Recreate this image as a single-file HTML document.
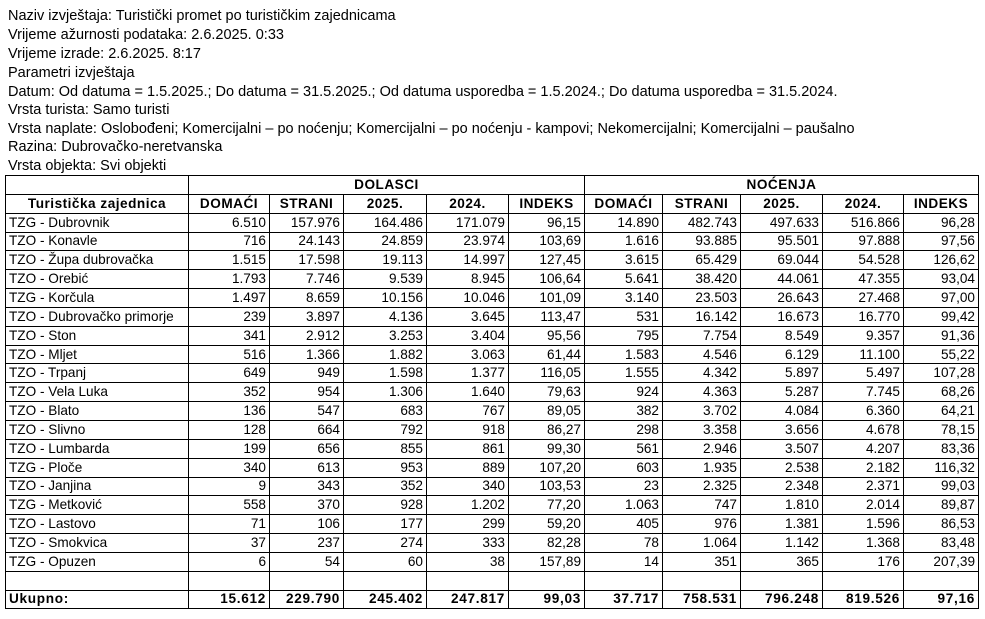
<!DOCTYPE html>
<html><head><meta charset="utf-8"><style>
body{margin:0;width:985px;height:619px;background:#fff;font-family:"Liberation Sans","DejaVu Sans",sans-serif;color:#000;position:relative;overflow:hidden}
.l{position:absolute;left:8px;font-size:14.5px;white-space:nowrap;line-height:16px}
table{position:absolute;left:5px;top:175px;border-collapse:collapse;table-layout:fixed;font-size:13.6px}
td{border:1px solid #000;padding:0 3px;height:17.85px;line-height:16px;text-align:right;white-space:nowrap;overflow:hidden}
td:first-child{text-align:left}
.h td{font-weight:bold;text-align:center;letter-spacing:0.5px}
.h td:first-child{text-align:center}
.t td{font-weight:bold;letter-spacing:0.7px}
</style></head><body>
<div class="l" style="top:8px">Naziv izvještaja: Turistički promet po turističkim zajednicama</div>
<div class="l" style="top:27px">Vrijeme ažurnosti podataka: 2.6.2025. 0:33</div>
<div class="l" style="top:46px">Vrijeme izrade: 2.6.2025. 8:17</div>
<div class="l" style="top:65px">Parametri izvještaja</div>
<div class="l" style="top:84px">Datum: Od datuma = 1.5.2025.; Do datuma = 31.5.2025.; Od datuma usporedba = 1.5.2024.; Do datuma usporedba = 31.5.2024.</div>
<div class="l" style="top:102px">Vrsta turista: Samo turisti</div>
<div class="l" style="top:121px">Vrsta naplate: Oslobođeni; Komercijalni – po noćenju; Komercijalni – po noćenju - kampovi; Nekomercijalni; Komercijalni – paušalno</div>
<div class="l" style="top:139px">Razina: Dubrovačko-neretvanska</div>
<div class="l" style="top:158px">Vrsta objekta: Svi objekti</div>
<table>
<colgroup><col style="width:183px"><col style="width:81px"><col style="width:74px"><col style="width:83px"><col style="width:82px"><col style="width:76px"><col style="width:78px"><col style="width:78px"><col style="width:82px"><col style="width:81px"><col style="width:75px"></colgroup>
<tr class="h"><td></td><td colspan="5">DOLASCI</td><td colspan="5">NOĆENJA</td></tr>
<tr class="h"><td>Turistička zajednica</td><td>DOMAĆI</td><td>STRANI</td><td>2025.</td><td>2024.</td><td>INDEKS</td><td>DOMAĆI</td><td>STRANI</td><td>2025.</td><td>2024.</td><td>INDEKS</td></tr>
<tr><td>TZG - Dubrovnik</td><td>6.510</td><td>157.976</td><td>164.486</td><td>171.079</td><td>96,15</td><td>14.890</td><td>482.743</td><td>497.633</td><td>516.866</td><td>96,28</td></tr>
<tr><td>TZO - Konavle</td><td>716</td><td>24.143</td><td>24.859</td><td>23.974</td><td>103,69</td><td>1.616</td><td>93.885</td><td>95.501</td><td>97.888</td><td>97,56</td></tr>
<tr><td>TZO - Župa dubrovačka</td><td>1.515</td><td>17.598</td><td>19.113</td><td>14.997</td><td>127,45</td><td>3.615</td><td>65.429</td><td>69.044</td><td>54.528</td><td>126,62</td></tr>
<tr><td>TZO - Orebić</td><td>1.793</td><td>7.746</td><td>9.539</td><td>8.945</td><td>106,64</td><td>5.641</td><td>38.420</td><td>44.061</td><td>47.355</td><td>93,04</td></tr>
<tr><td>TZG - Korčula</td><td>1.497</td><td>8.659</td><td>10.156</td><td>10.046</td><td>101,09</td><td>3.140</td><td>23.503</td><td>26.643</td><td>27.468</td><td>97,00</td></tr>
<tr><td>TZO - Dubrovačko primorje</td><td>239</td><td>3.897</td><td>4.136</td><td>3.645</td><td>113,47</td><td>531</td><td>16.142</td><td>16.673</td><td>16.770</td><td>99,42</td></tr>
<tr><td>TZO - Ston</td><td>341</td><td>2.912</td><td>3.253</td><td>3.404</td><td>95,56</td><td>795</td><td>7.754</td><td>8.549</td><td>9.357</td><td>91,36</td></tr>
<tr><td>TZO - Mljet</td><td>516</td><td>1.366</td><td>1.882</td><td>3.063</td><td>61,44</td><td>1.583</td><td>4.546</td><td>6.129</td><td>11.100</td><td>55,22</td></tr>
<tr><td>TZO - Trpanj</td><td>649</td><td>949</td><td>1.598</td><td>1.377</td><td>116,05</td><td>1.555</td><td>4.342</td><td>5.897</td><td>5.497</td><td>107,28</td></tr>
<tr><td>TZO - Vela Luka</td><td>352</td><td>954</td><td>1.306</td><td>1.640</td><td>79,63</td><td>924</td><td>4.363</td><td>5.287</td><td>7.745</td><td>68,26</td></tr>
<tr><td>TZO - Blato</td><td>136</td><td>547</td><td>683</td><td>767</td><td>89,05</td><td>382</td><td>3.702</td><td>4.084</td><td>6.360</td><td>64,21</td></tr>
<tr><td>TZO - Slivno</td><td>128</td><td>664</td><td>792</td><td>918</td><td>86,27</td><td>298</td><td>3.358</td><td>3.656</td><td>4.678</td><td>78,15</td></tr>
<tr><td>TZO - Lumbarda</td><td>199</td><td>656</td><td>855</td><td>861</td><td>99,30</td><td>561</td><td>2.946</td><td>3.507</td><td>4.207</td><td>83,36</td></tr>
<tr><td>TZG - Ploče</td><td>340</td><td>613</td><td>953</td><td>889</td><td>107,20</td><td>603</td><td>1.935</td><td>2.538</td><td>2.182</td><td>116,32</td></tr>
<tr><td>TZO - Janjina</td><td>9</td><td>343</td><td>352</td><td>340</td><td>103,53</td><td>23</td><td>2.325</td><td>2.348</td><td>2.371</td><td>99,03</td></tr>
<tr><td>TZG - Metković</td><td>558</td><td>370</td><td>928</td><td>1.202</td><td>77,20</td><td>1.063</td><td>747</td><td>1.810</td><td>2.014</td><td>89,87</td></tr>
<tr><td>TZO - Lastovo</td><td>71</td><td>106</td><td>177</td><td>299</td><td>59,20</td><td>405</td><td>976</td><td>1.381</td><td>1.596</td><td>86,53</td></tr>
<tr><td>TZO - Smokvica</td><td>37</td><td>237</td><td>274</td><td>333</td><td>82,28</td><td>78</td><td>1.064</td><td>1.142</td><td>1.368</td><td>83,48</td></tr>
<tr><td>TZG - Opuzen</td><td>6</td><td>54</td><td>60</td><td>38</td><td>157,89</td><td>14</td><td>351</td><td>365</td><td>176</td><td>207,39</td></tr>
<tr><td></td><td></td><td></td><td></td><td></td><td></td><td></td><td></td><td></td><td></td><td></td></tr>
<tr class="t"><td>Ukupno:</td><td>15.612</td><td>229.790</td><td>245.402</td><td>247.817</td><td>99,03</td><td>37.717</td><td>758.531</td><td>796.248</td><td>819.526</td><td>97,16</td></tr>
</table>
</body></html>
